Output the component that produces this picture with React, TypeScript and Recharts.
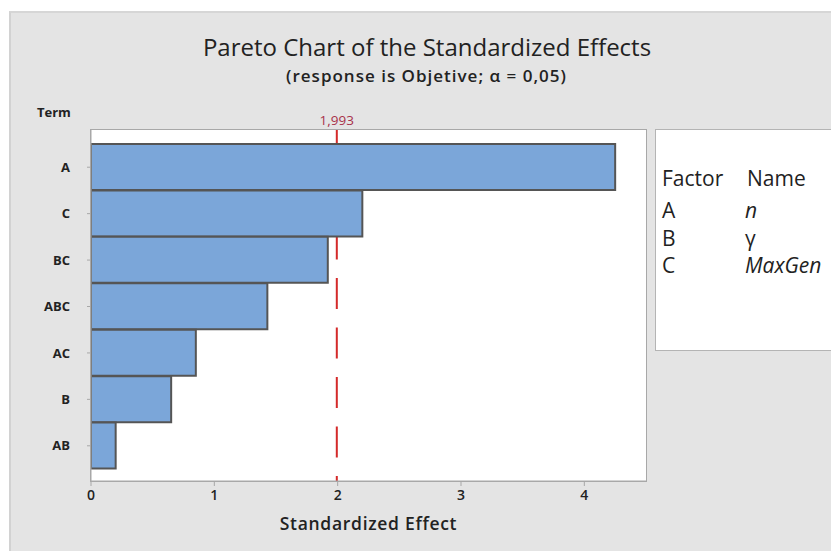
import React from "react";
import { BarChart, Bar, XAxis, YAxis, ReferenceLine } from "recharts";

const terms = ["A", "C", "BC", "ABC", "AC", "B", "AB"];
const effects = [4.25, 2.2, 1.92, 1.43, 0.85, 0.65, 0.2];
const xTicks = [0, 1, 2, 3, 4];
const critical = 1.993;
const factors = ["A", "B", "C"];
const factorNames = ["n", "γ", "MaxGen"];

const data = terms.map((t, i) => ({ term: t, effect: effects[i] }));

const font = "'Open Sans', 'Noto Sans', sans-serif";
const rowTops = [200, 228, 255];

export default function App() {
  return (
    <div style={{ position: "absolute", left: 0, top: 0, width: 831, height: 551, background: "#fff", overflow: "hidden", fontFamily: font }}>
      <div style={{ position: "absolute", left: 9, top: 11, width: 822, height: 540, background: "#e4e4e4", borderLeft: "2px solid #d2d2d2", borderTop: "2px solid #d6d6d6", boxSizing: "border-box" }} />
      {/* plot frame */}
      <div style={{ position: "absolute", left: 90, top: 129, width: 557, height: 353, background: "#fff", border: "1.5px solid #a8a8a8", boxSizing: "border-box" }} />
      {/* legend box */}
      <div style={{ position: "absolute", left: 655, top: 129, width: 200, height: 222, background: "#fff", border: "1.5px solid #b4b4b4", boxSizing: "border-box" }} />

      <div style={{ position: "absolute", left: 0, width: 854, top: 31, textAlign: "center", fontSize: 24, color: "#222", whiteSpace: "nowrap", lineHeight: "32px" }}>
        Pareto Chart of the Standardized Effects
      </div>
      <div style={{ position: "absolute", left: 0, width: 853, top: 65, textAlign: "center", fontSize: 17, fontWeight: 600, letterSpacing: 1, color: "#222", whiteSpace: "nowrap", lineHeight: "22px" }}>
        (response is Objetive; α = 0,05)
      </div>
      <div style={{ position: "absolute", left: 37, top: 103, fontSize: 13, fontWeight: 700, color: "#222", lineHeight: "18px" }}>Term</div>
      <div style={{ position: "absolute", left: 0, width: 737, top: 510, textAlign: "center", fontSize: 17.5, fontWeight: 600, letterSpacing: 0.7, color: "#222", lineHeight: "26px" }}>
        Standardized Effect
      </div>

      <div style={{ position: "absolute", left: 662, top: 168, fontSize: 21, color: "#222", lineHeight: "20px" }}>Factor</div>
      <div style={{ position: "absolute", left: 747, top: 168, fontSize: 21, color: "#222", lineHeight: "20px" }}>Name</div>
      {factors.map((f, i) => (
        <React.Fragment key={f}>
          <div style={{ position: "absolute", left: 662, top: rowTops[i], fontSize: 21, color: "#222", lineHeight: "20px" }}>{f}</div>
          <div style={{ position: "absolute", left: 745, top: rowTops[i], fontSize: 21, color: "#222", lineHeight: "20px", fontStyle: i === 1 ? "normal" : "italic", whiteSpace: "nowrap" }}>
            {factorNames[i]}
          </div>
        </React.Fragment>
      ))}

      <div style={{ position: "absolute", left: 0, top: 0 }}>
        <BarChart
          width={831}
          height={551}
          data={data}
          layout="vertical"
          barCategoryGap={0}
          margin={{ top: 130, right: 185, left: 51, bottom: 40 }}
        >
          <XAxis
            type="number"
            dataKey="effect"
            domain={[0, 4.5]}
            ticks={xTicks}
            allowDataOverflow
            height={30}
            tickSize={5}
            tickMargin={4}
            stroke="#a8a8a8"
            tick={{ fontSize: 14, fill: "#222", fontWeight: 600, fontFamily: font }}
          />
          <YAxis
            type="category"
            dataKey="term"
            width={40}
            padding={{ top: 14, bottom: 12 }}
            tickSize={4}
            tickMargin={17}
            stroke="#a8a8a8"
            tick={{ fontSize: 13, fill: "#222", fontWeight: 700, fontFamily: font }}
          />
          <ReferenceLine
            x={critical}
            stroke="#d42a2a"
            strokeWidth={2}
            strokeDasharray="31 18.5"
            strokeDashoffset={26}
            zIndex={100}
            label={{ value: "1,993", position: "top", fill: "#a8324a", fontSize: 13.5, offset: 5 }}
          />
          <Bar dataKey="effect" fill="#7ba6d9" stroke="#555" strokeWidth={2} isAnimationActive={false} />
        </BarChart>
      </div>
    </div>
  );
}
